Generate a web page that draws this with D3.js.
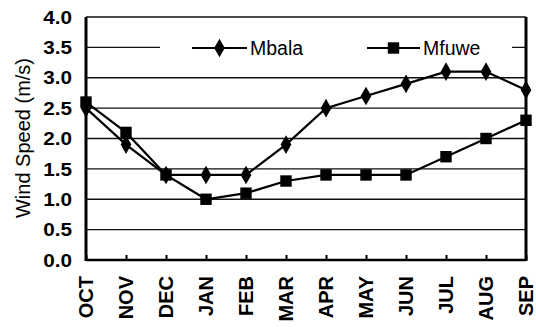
<!DOCTYPE html>
<html><head><meta charset="utf-8">
<script src="https://cdn.jsdelivr.net/npm/d3@7"></script>
<style>body{margin:0;background:#fff}svg{display:block}</style>
</head><body>
<svg id="c" width="536" height="327"></svg>
<script>
const months = ["OCT","NOV","DEC","JAN","FEB","MAR","APR","MAY","JUN","JUL","AUG","SEP"];
const mbala = [2.5,1.9,1.4,1.4,1.4,1.9,2.5,2.7,2.9,3.1,3.1,2.8];
const mfuwe = [2.6,2.1,1.4,1.0,1.1,1.3,1.4,1.4,1.4,1.7,2.0,2.3];
const yTicks = [0,0.5,1.0,1.5,2.0,2.5,3.0,3.5,4.0];
const seriesNames = ["Mbala","Mfuwe"];

const svg = d3.select("#c");
const L=86, R=526, T=17, B=260;
const x = d3.scalePoint().domain(months).range([L,R]);
const y = d3.scaleLinear().domain([0,4]).range([B,T]);
const font = "'Liberation Sans', Arial, sans-serif";

// gridlines
svg.append("g").selectAll("line").data(yTicks).join("line")
  .attr("x1",L).attr("x2",R).attr("y1",d=>y(d)).attr("y2",d=>y(d))
  .attr("stroke","#111").attr("stroke-width",1.3);

// legend background
svg.append("rect").attr("x",160).attr("y",33).attr("width",352).attr("height",30).attr("fill","#fff");

// frame
svg.append("line").attr("x1",L).attr("x2",L).attr("y1",T).attr("y2",B+1).attr("stroke","#000").attr("stroke-width",3);
svg.append("line").attr("x1",R).attr("x2",R).attr("y1",T).attr("y2",B+1).attr("stroke","#000").attr("stroke-width",3);
svg.append("line").attr("x1",L).attr("x2",R).attr("y1",B).attr("y2",B).attr("stroke","#000").attr("stroke-width",2.5);

// x axis ticks (inward)
const xAxis = d3.axisBottom(x).tickSize(-5).tickFormat("");
const gx = svg.append("g").attr("transform",`translate(0,${B})`).call(xAxis);
gx.select(".domain").remove();
gx.selectAll(".tick line").attr("stroke","#000").attr("stroke-width",2);

// x labels rotated
svg.append("g").selectAll("text").data(months).join("text")
  .attr("transform",d=>`translate(${x(d)},276) rotate(-90)`)
  .attr("text-anchor","end").attr("dy","0.36em")
  .attr("font-family",font).attr("font-weight","bold").attr("font-size",20)
  .attr("fill","#000").text(d=>d);

// y labels (slightly wide, as in the scan)
svg.append("g").selectAll("text").data(yTicks).join("text")
  .attr("transform",d=>`translate(72,${y(d)}) scale(1.12,1)`)
  .attr("dy","0.36em").attr("text-anchor","end")
  .attr("font-family",font).attr("font-weight","bold").attr("font-size",18.5)
  .attr("fill","#000").text(d=>d.toFixed(1));

// y title
svg.append("text").attr("transform","translate(23,138) rotate(-90)")
  .attr("text-anchor","middle").attr("dy","0.36em")
  .attr("font-family",font).attr("font-size",20).attr("fill","#000")
  .text("Wind Speed (m/s)");

const line = d3.line().x((d,i)=>x(months[i])).y(d=>y(d));
const diamond = d3.symbol().type(d3.symbolDiamond).size(100);
const square = d3.symbol().type(d3.symbolSquare).size(130);

function drawSeries(vals, sym){
  svg.append("path").datum(vals).attr("d",line).attr("fill","none")
    .attr("stroke","#000").attr("stroke-width",2.2);
  svg.append("g").selectAll("path").data(vals).join("path")
    .attr("transform",(d,i)=>`translate(${x(months[i])},${y(d)})`)
    .attr("d",sym).attr("fill","#000");
}
drawSeries(mbala, diamond);
drawSeries(mfuwe, square);

// legend
const lg = [{name:seriesNames[0],x1:192,x2:247,sym:diamond,tx:250},
            {name:seriesNames[1],x1:367,x2:420,sym:square,tx:423}];
const ly = 48;
lg.forEach(l=>{
  svg.append("line").attr("x1",l.x1).attr("x2",l.x2).attr("y1",ly).attr("y2",ly)
    .attr("stroke","#000").attr("stroke-width",2.2);
  svg.append("path").attr("transform",`translate(${(l.x1+l.x2)/2},${ly})`).attr("d",l.sym).attr("fill","#000");
  svg.append("text").attr("x",l.tx).attr("y",ly).attr("dy","0.36em")
    .attr("font-family",font).attr("font-size",19.5).attr("fill","#000").text(l.name);
});
</script>
</body></html>
